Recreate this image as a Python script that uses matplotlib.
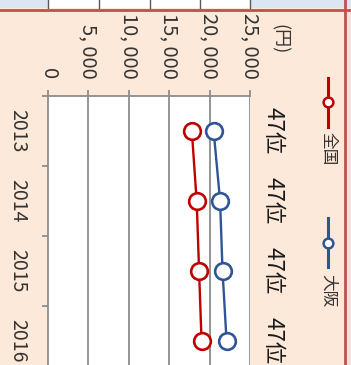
import matplotlib.pyplot as plt
from matplotlib.patches import Rectangle
from matplotlib.lines import Line2D
from matplotlib.transforms import blended_transform_factory

plt.rcParams['font.family'] = ['Noto Sans CJK JP', 'DejaVu Sans']

years = ['2013', '2014', '2015', '2016']
zenkoku = [17800, 18400, 18700, 19000]
osaka = [20500, 21300, 21600, 22100]
ranks = ['47位', '47位', '47位', '47位']
value_ticks = [0, 5000, 10000, 15000, 20000, 25000]

W, H = 351, 365
RED = '#c00000'
BLUE = '#2f5597'
GRID = '#8c8c8c'
PEACH = '#fde9da'


def fx(px):
    return px / W


def fy(py):
    return 1 - py / H


fig = plt.figure(figsize=(W / 100, H / 100), dpi=100)
fig.patch.set_facecolor(PEACH)

# header strip with table cells
fig.add_artist(Rectangle((0, fy(8)), 1, 8 / H, transform=fig.transFigure,
                         facecolor='#dce6f2', edgecolor='none'))
fig.add_artist(Rectangle((fx(48), fy(8)), fx(250) - fx(48), 8 / H, transform=fig.transFigure,
                         facecolor='white', edgecolor='none'))
for px in [48, 99, 150, 200, 250]:
    fig.add_artist(Line2D([fx(px), fx(px)], [fy(0), fy(8)], transform=fig.transFigure,
                          color='#595959', lw=1))
fig.add_artist(Line2D([0, 1], [fy(9.5), fy(9.5)], transform=fig.transFigure,
                      color='#c0504d', lw=2))
# right border and neighbouring panel
fig.add_artist(Rectangle((fx(345), 0), 1 - fx(345), fy(9.5), transform=fig.transFigure,
                         facecolor='#f4dede', edgecolor='none'))
fig.add_artist(Line2D([fx(344.5), fx(344.5)], [0, 1], transform=fig.transFigure,
                      color='#c0504d', lw=2))

# plot area (rotated layout: values run left to right, years top to bottom)
ax = fig.add_axes([fx(48), fy(376), fx(250) - fx(48), (376 - 96) / H])
ax.set_facecolor('white')
pos = [i + 0.5 for i in range(len(years))]

ax.plot(zenkoku, pos, color=RED, lw=1.7, marker='o', ms=12, mfc='white',
        mec=RED, mew=1.9, zorder=3)
ax.plot(osaka, pos, color=BLUE, lw=1.7, marker='o', ms=12, mfc='white',
        mec=BLUE, mew=1.9, zorder=3)

ax.set_xlim(0, 25000)
ax.set_ylim(len(years), 0)

for v in value_ticks[1:]:
    ax.axvline(v, color=GRID, lw=1.3, zorder=1)

for side in ['bottom', 'right']:
    ax.spines[side].set_visible(False)
for side in ['top', 'left']:
    ax.spines[side].set_color(GRID)
    ax.spines[side].set_linewidth(1.3)

ax.xaxis.tick_top()
ax.set_xticks(value_ticks)
ax.set_xticklabels(['0'] + ['{:,}'.format(v).replace(',', ', ') for v in value_ticks[1:]],
                   rotation=-90, fontsize=14.5)
ax.tick_params(axis='x', direction='out', length=4.5, width=1.3, color=GRID,
               pad=8, labelcolor='#333333')

ax.set_yticks(range(len(years) + 1))
ax.set_yticklabels([])
ax.set_yticks(pos, minor=True)
ax.set_yticklabels(years, minor=True, rotation=-90, fontsize=14, va='center')
ax.tick_params(axis='y', which='major', direction='out', length=4.5, width=1.3, color=GRID)
ax.tick_params(axis='y', which='minor', length=0, pad=14, labelcolor='#333333')

# rank labels beside each year
tr = blended_transform_factory(ax.transAxes, ax.transData)
for p, r in zip(pos, ranks):
    ax.text(1.113, p, r, transform=tr, rotation=-90, ha='center', va='center',
            fontsize=16, color='#1a1a1a', clip_on=False)

fig.text(fx(279), fy(39), '(円)', rotation=-90, ha='center', va='center',
         fontsize=13, color='#333333')

# legend entries drawn vertically
for color, label, y0, y1, ym, yt in [(RED, '全国', 78, 127, 102, 149),
                                     (BLUE, '大阪', 218, 267, 243, 291)]:
    fig.add_artist(Line2D([fx(328), fx(328)], [fy(y0), fy(y1)], transform=fig.transFigure,
                          color=color, lw=2.2))
    fig.add_artist(Line2D([fx(328)], [fy(ym)], transform=fig.transFigure, marker='o',
                          ms=7, mfc='white', mec=color, mew=1.8))
    fig.text(fx(328), fy(yt), label, rotation=-90, ha='center', va='center',
             fontsize=12, color='#333333')

fig.savefig('out.png', dpi=100, facecolor=fig.get_facecolor())
